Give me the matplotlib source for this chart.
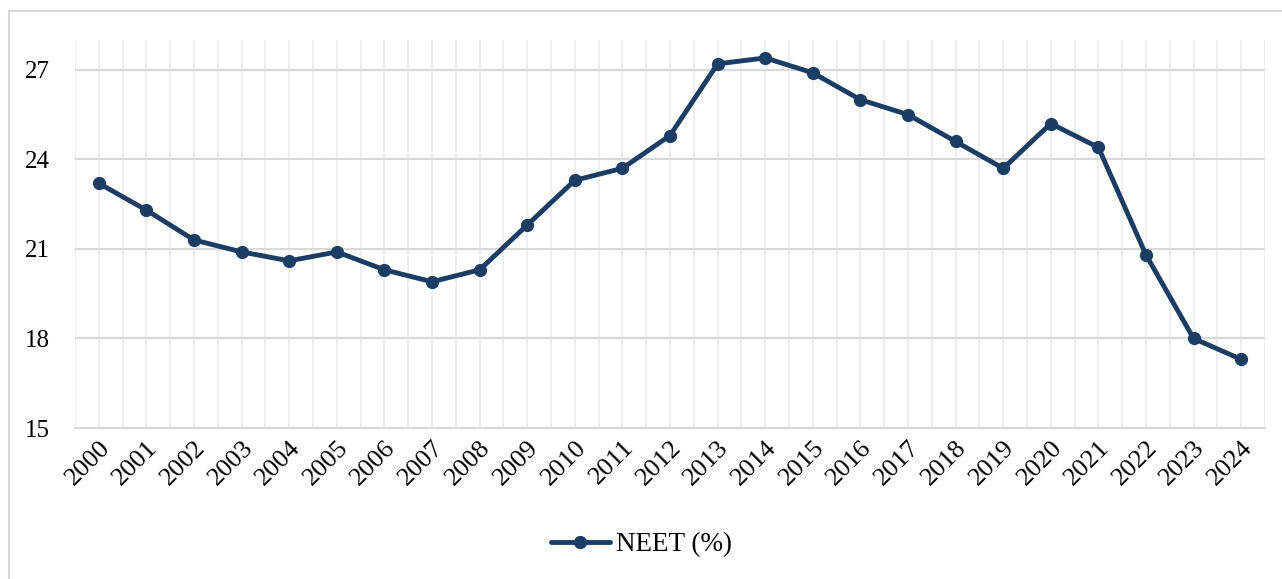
import matplotlib.pyplot as plt
from matplotlib.patches import Rectangle
import numpy as np

years = [str(y) for y in range(2000, 2025)]
neet = [23.2, 22.3, 21.3, 20.9, 20.6, 20.9, 20.3, 19.9, 20.3, 21.8, 23.3, 23.7, 24.8,
        27.2, 27.4, 26.9, 26.0, 25.5, 24.6, 23.7, 25.2, 24.4, 20.8, 18.0, 17.3]
yticks = [15, 18, 21, 24, 27]

plt.rcParams["font.family"] = ["Liberation Serif", "DejaVu Serif"]

W, H = 1282, 579
fig = plt.figure(figsize=(W / 100, H / 100), dpi=100)
ax = fig.add_axes([75 / W, 1 - 428 / H, (1265 - 75) / W, (428 - 40) / H])

# outer frame
fig.patches.append(Rectangle((9 / W, -0.02), 1.0, 1 - 11 / H + 0.02, transform=fig.transFigure,
                             fill=False, edgecolor="#d9d9d9", linewidth=1.5))

x = np.arange(len(years))
color = "#1b3d63"
ax.plot(x, neet, color=color, linewidth=3.5, marker="o", markersize=8.5,
        solid_capstyle="round", label="NEET (%)")

ax.set_xlim(-0.5, len(years) - 0.5)
ax.set_ylim(15, 28)
ax.set_yticks(yticks)
ax.set_xticks(x)
ax.set_xticklabels(years, rotation=45, ha="right", va="top", rotation_mode="anchor")

for v in np.arange(-0.5, len(years), 0.5):
    ax.axvline(v, color="#efefef", linewidth=1.5, zorder=0)
for v in yticks[1:]:
    ax.axhline(v, color="#d9d9d9", linewidth=1.5, zorder=1)

for s in ["top", "right", "left"]:
    ax.spines[s].set_visible(False)
ax.spines["bottom"].set_color("#d9d9d9")
ax.spines["bottom"].set_linewidth(1.5)
ax.tick_params(axis="y", length=0, labelsize=18, pad=18)
ax.tick_params(axis="x", length=0, labelsize=19, pad=6)

ax.legend(loc="center", bbox_to_anchor=(0.5, (H - 545) / H), bbox_transform=fig.transFigure,
          frameon=False, fontsize=19.5, handlelength=2.2, handletextpad=0.2)

fig.savefig("out.png", dpi=100)
